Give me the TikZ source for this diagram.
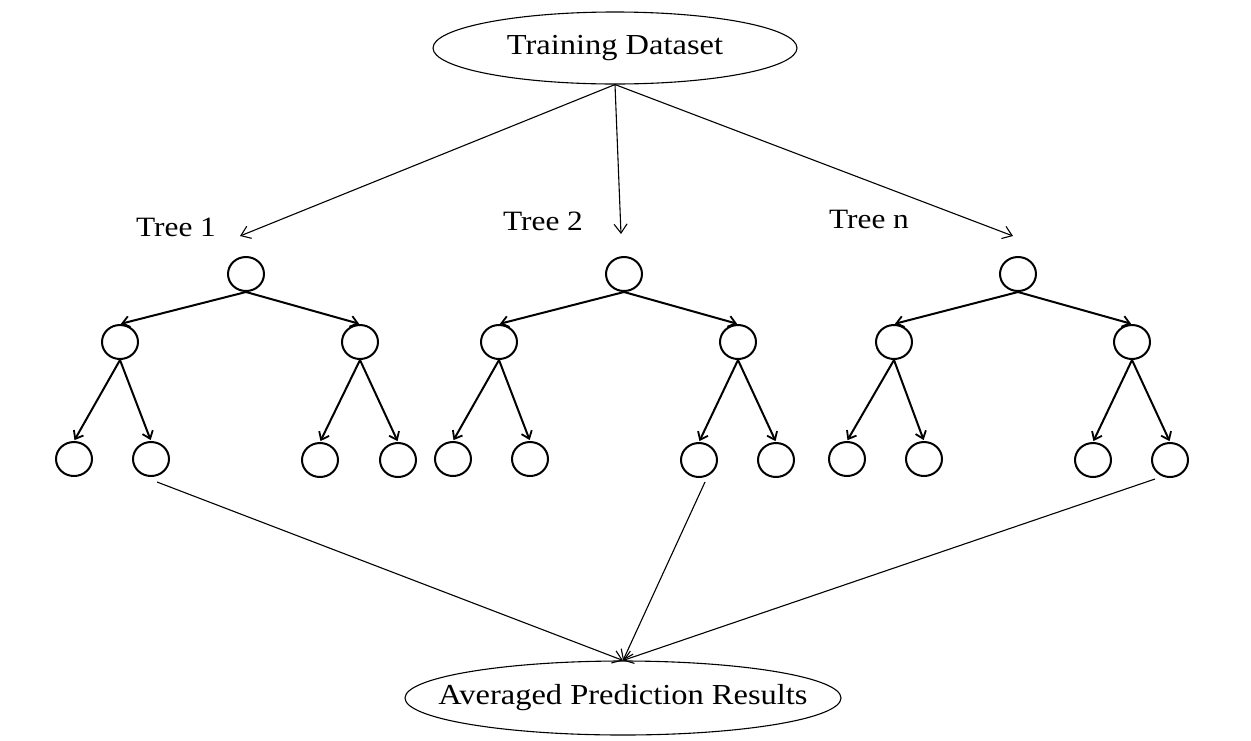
\documentclass[tikz,border=0pt]{standalone}
\usepackage{fontspec}
\setmainfont{Liberation Serif}[FakeStretch=1.12]
\usetikzlibrary{shapes.geometric,arrows.meta}
\begin{document}
\begin{tikzpicture}[x=1pt,y=-1pt,
  bigoval/.style={draw, ellipse, line width=1.1pt, inner sep=0pt, font=\fontsize{29}{32}\selectfont},
  leaf/.style={draw, ellipse, line width=2pt, minimum width=36pt, minimum height=34pt, inner sep=0pt},
  treelabel/.style={font=\fontsize{28}{30}\selectfont, inner sep=0pt},
  thinarrow/.style={line width=1.1pt, -{Straight Barb[length=9pt,width=13pt,line width=1.1pt]}},
  treearrow/.style={line width=2pt, -{Straight Barb[length=7pt,width=11pt,line width=1.8pt]}, shorten >=1pt},
  plainline/.style={line width=1.1pt}]
\useasboundingbox (0,0) rectangle (1251,740);

% source and result ellipses
\node[bigoval, minimum width=364pt, minimum height=72pt] (train) at (615,48) {Training Dataset};
\node[bigoval, minimum width=436pt, minimum height=74pt, inner xsep=-32pt] (avg) at (623,698) {Averaged Prediction Results};

% tree titles
\node[treelabel] (t1) at (176,227) {Tree 1};
\node[treelabel] (t2) at (543,221) {Tree 2};
\node[treelabel] (tn) at (869,219) {Tree n};

% arrow targets above the trees
\coordinate (a1) at (240,236);
\coordinate (a2) at (621,234);
\coordinate (an) at (1013,236);
\draw[thinarrow] (train.south) -- (a1);
\draw[thinarrow] (train.south) -- (a2);
\draw[thinarrow] (train.south) -- (an);

% three binary trees: root, two inner nodes, four leaves
\foreach \t/\r/\l/\m/\la/\lb/\lc/\ld in
  {1/246/120/360/74/151/320/398,
   2/624/499/738/453/530/699/776,
   3/1018/894/1132/847/924/1093/1170}{
  \node[leaf] (r\t) at (\r,274) {};
  \node[leaf] (l\t) at (\l,342) {};
  \node[leaf] (m\t) at (\m,342) {};
  \node[leaf] (la\t) at (\la,459) {};
  \node[leaf] (lb\t) at (\lb,459) {};
  \node[leaf] (lc\t) at (\lc,460) {};
  \node[leaf] (ld\t) at (\ld,460) {};
  \draw[treearrow] (r\t.south) -- (l\t.north);
  \draw[treearrow] (r\t.south) -- (m\t.north);
  \draw[treearrow] (l\t.south) -- (la\t.north);
  \draw[treearrow] (l\t.south) -- (lb\t.north);
  \draw[treearrow] (m\t.south) -- (lc\t.north);
  \draw[treearrow] (m\t.south) -- (ld\t.north);
}

% predictions collected from one leaf of each tree
\coordinate (p1) at (157,482);
\coordinate (p2) at (705,482);
\coordinate (p3) at (1155,479);
\draw[thinarrow] (p1) -- (avg.north);
\draw[thinarrow] (p2) -- (avg.north);
\draw[thinarrow] (p3) -- (avg.north);
\end{tikzpicture}
\end{document}
